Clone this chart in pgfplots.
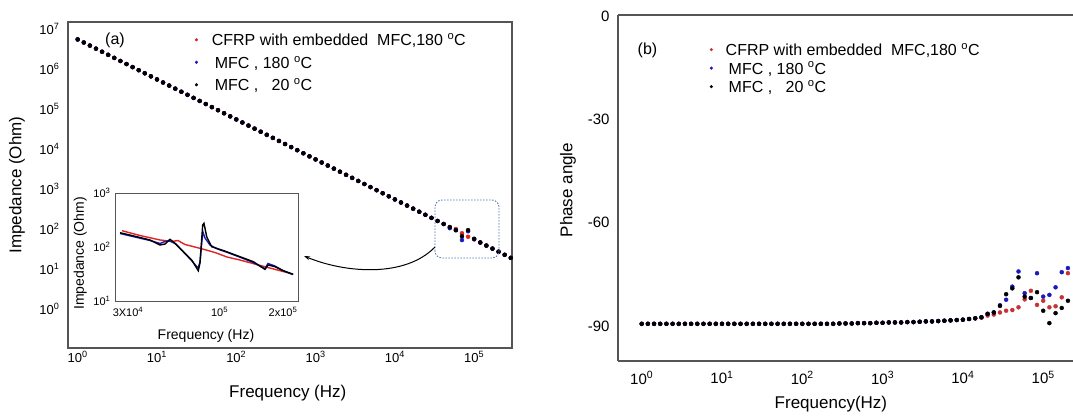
\documentclass[border=0pt]{standalone}
\usepackage{fontspec}
\setmainfont{Liberation Sans}
\usepackage{pgfplots}
\usepackage{pgfplotstable}
\pgfplotsset{compat=1.18}
\usetikzlibrary{arrows.meta}

\definecolor{cred}{RGB}{225,35,35}
\definecolor{cblue}{RGB}{25,25,190}
\definecolor{cred2}{RGB}{200,50,50}
\definecolor{cbox}{RGB}{80,120,180}
\definecolor{spine}{RGB}{85,85,85}

% panel (a): frequency, impedance (red: CFRP+MFC 180C, blue: MFC 180C, black: MFC 20C)
\pgfplotstableread{
f zr zb zk
1 5.5e6 5.5e6 5.5e6
1.1938 4.607e6 4.607e6 4.607e6
1.4251 3.859e6 3.859e6 3.859e6
1.7013 3.233e6 3.233e6 3.233e6
2.0310 2.708e6 2.708e6 2.708e6
2.4245 2.2685e6 2.2685e6 2.2685e6
2.8943 1.9003e6 1.9003e6 1.9003e6
3.4551 1.5918e6 1.5918e6 1.5918e6
4.1246 1.3335e6 1.3335e6 1.3335e6
4.9239 1.1170e6 1.1170e6 1.1170e6
5.8780 9.357e5 9.357e5 9.357e5
7.0170 7.838e5 7.838e5 7.838e5
8.3768 6.566e5 6.566e5 6.566e5
10 5.5e5 5.5e5 5.5e5
11.938 4.607e5 4.607e5 4.607e5
14.251 3.859e5 3.859e5 3.859e5
17.013 3.233e5 3.233e5 3.233e5
20.310 2.708e5 2.708e5 2.708e5
24.245 2.2685e5 2.2685e5 2.2685e5
28.943 1.9003e5 1.9003e5 1.9003e5
34.551 1.5918e5 1.5918e5 1.5918e5
41.246 1.3335e5 1.3335e5 1.3335e5
49.239 1.1170e5 1.1170e5 1.1170e5
58.780 9.357e4 9.357e4 9.357e4
70.170 7.838e4 7.838e4 7.838e4
83.768 6.566e4 6.566e4 6.566e4
100 5.5e4 5.5e4 5.5e4
119.38 4.607e4 4.607e4 4.607e4
142.51 3.859e4 3.859e4 3.859e4
170.13 3.233e4 3.233e4 3.233e4
203.10 2.708e4 2.708e4 2.708e4
242.45 2.2685e4 2.2685e4 2.2685e4
289.43 1.9003e4 1.9003e4 1.9003e4
345.51 1.5918e4 1.5918e4 1.5918e4
412.46 1.3335e4 1.3335e4 1.3335e4
492.39 1.1170e4 1.1170e4 1.1170e4
587.80 9357 9357 9357
701.70 7838 7838 7838
837.68 6566 6566 6566
1000 5500 5500 5500
1193.8 4607 4607 4607
1425.1 3859 3859 3859
1701.3 3233 3233 3233
2031.0 2708 2708 2708
2424.5 2268.5 2268.5 2268.5
2894.3 1900.3 1900.3 1900.3
3455.1 1591.8 1591.8 1591.8
4124.6 1333.5 1333.5 1333.5
4923.9 1117.0 1117.0 1117.0
5878.0 935.7 935.7 935.7
7017.0 783.8 783.8 783.8
8376.8 656.6 656.6 656.6
10000 550 550 550
11938 460.7 460.7 460.7
14251 385.9 385.9 385.9
17013 323.3 323.3 323.3
20310 270.8 270.8 270.8
24245 226.85 226.85 226.85
28943 190.03 190.03 190.03
34551 159.18 159.18 159.18
41246 133.35 133.35 133.35
49239 111.70 105.0 111.70
58780 100.0 93.57 93.57
70170 78.38 53.0 66.0
83768 64.0 88.0 94.0
100000 55.0 56.0 57.0
119380 46.07 46.07 46.07
142510 38.59 38.59 38.59
170130 32.33 32.33 32.33
203100 27.08 27.08 27.08
242450 22.685 22.685 22.685
289430 19.003 19.003 19.003
345510 15.918 15.918 15.918
}\tblA

% inset of panel (a)
\pgfplotstableread{
f z
3.124e4 200.4
3.886e4 163.3
4.952e4 134.9
5.727e4 126.5
6.159e4 131.9
6.704e4 111.2
8.044e4 94.6
9.643e4 79.1
1.115e5 65.3
1.306e5 57.4
1.565e5 48.4
1.878e5 40.8
2.199e5 35.2
2.481e5 31.6
}\tblIr
\pgfplotstableread{
f z
3.050e4 177.8
3.747e4 150.0
4.386e4 131.9
4.952e4 116.1
5.262e4 126.5
5.589e4 129.2
6.009e4 113.6
6.624e4 79.1
7.298e4 55.1
7.849e4 40.8
8.044e4 52.7
8.240e4 134.9
8.341e4 189.6
8.545e4 146.8
9.078e4 108.9
9.879e4 92.6
1.115e5 79.8
1.306e5 64.7
1.528e5 52.1
1.768e5 39.6
1.833e5 49.5
1.995e5 44.5
2.199e5 36.7
2.481e5 30.8
}\tblIb
\pgfplotstableread{
f z
3.050e4 184.0
3.734e4 155.2
4.386e4 134.9
4.952e4 108.9
5.262e4 113.6
5.589e4 138.9
5.937e4 117.1
6.568e4 81.8
7.272e4 57.4
7.879e4 36.4
8.044e4 50.6
8.311e4 255.5
8.442e4 274.8
8.723e4 155.2
9.265e4 101.4
9.843e4 94.6
1.111e5 81.8
1.306e5 66.1
1.534e5 53.5
1.768e5 38.6
1.840e5 46.4
1.995e5 43.2
2.207e5 36.4
2.490e5 31.2
}\tblIk

% panel (b): frequency, phase angle
\pgfplotstableread{
f pr pb pk
1 -89.4 -89.4 -89.4
1.1938 -89.4 -89.4 -89.4
1.4251 -89.4 -89.4 -89.4
1.7013 -89.4 -89.4 -89.4
2.0310 -89.4 -89.4 -89.4
2.4245 -89.4 -89.4 -89.4
2.8943 -89.4 -89.4 -89.4
3.4551 -89.4 -89.4 -89.4
4.1246 -89.4 -89.4 -89.4
4.9239 -89.4 -89.4 -89.4
5.8780 -89.4 -89.4 -89.4
7.0170 -89.4 -89.4 -89.4
8.3768 -89.4 -89.4 -89.4
10 -89.4 -89.4 -89.4
11.938 -89.4 -89.4 -89.4
14.251 -89.4 -89.4 -89.4
17.013 -89.4 -89.4 -89.4
20.310 -89.4 -89.4 -89.4
24.245 -89.4 -89.4 -89.4
28.943 -89.4 -89.4 -89.4
34.551 -89.4 -89.4 -89.4
41.246 -89.4 -89.4 -89.4
49.239 -89.4 -89.4 -89.4
58.780 -89.4 -89.4 -89.4
70.170 -89.4 -89.4 -89.4
83.768 -89.4 -89.4 -89.4
100 -89.4 -89.4 -89.4
119.38 -89.4 -89.4 -89.4
142.51 -89.4 -89.4 -89.4
170.13 -89.4 -89.4 -89.4
203.10 -89.4 -89.4 -89.4
242.45 -89.4 -89.4 -89.4
289.43 -89.3 -89.3 -89.3
345.51 -89.3 -89.3 -89.3
412.46 -89.3 -89.3 -89.3
492.39 -89.2 -89.2 -89.2
587.80 -89.2 -89.2 -89.2
701.70 -89.2 -89.2 -89.2
837.68 -89.1 -89.1 -89.1
1000 -89.1 -89.1 -89.1
1193.8 -89.0 -89.0 -89.0
1425.1 -89.0 -89.0 -89.0
1701.3 -89.0 -89.0 -89.0
2031.0 -88.9 -88.9 -88.9
2424.5 -88.9 -88.9 -88.9
2894.3 -88.8 -88.8 -88.8
3455.1 -88.7 -88.7 -88.7
4124.6 -88.7 -88.7 -88.7
4923.9 -88.6 -88.6 -88.6
5878.0 -88.5 -88.5 -88.5
7017.0 -88.4 -88.4 -88.4
8376.8 -88.3 -88.3 -88.3
10000 -88.2 -88.2 -88.2
11938 -88.0 -88.0 -88.0
14251 -87.8 -87.8 -87.8
17013 -87.6 -87.5 -87.5
20310 -87.0 -86.5 -86.5
24245 -86.7 -86.1 -86.1
28943 -86.1 -84.0 -84.2
34551 -85.6 -82.4 -80.8
41246 -85.4 -78.6 -79.1
49239 -84.6 -74.2 -75.9
58780 -82.3 -80.5 -81.5
70170 -79.8 -81.9 -81.9
83768 -83.9 -74.7 -80.2
100000 -82.7 -81.5 -85.6
119380 -84.6 -81.0 -89.2
142510 -84.3 -78.8 -86.3
170130 -81.7 -74.4 -84.8
203100 -74.7 -73.2 -82.7
242450 -71.4 -69.4 -82.0
}\tblB

\pgfplotsset{
  every axis/.append style={
    scale only axis,
    major tick length=0pt, minor tick length=0pt,
    xminorticks=false, yminorticks=false,
    axis line style={spine, line width=1.3bp},
  },
}
\newcommand{\sps}[1]{\textsuperscript{#1}}

\begin{document}
\begin{tikzpicture}
\path[use as bounding box] (0,0) rectangle (1073bp,418bp);

% ---------------- panel (a) ----------------
\begin{axis}[
  at={(68bp,70bp)}, anchor=south west,
  width=444bp, height=326bp,
  xmode=log, ymode=log,
  xmin=0.755, xmax=3.0e5, ymin=0.106, ymax=1.5e7,
  xtick={1,10,100,1000,10000,100000},
  xticklabels={10\sps{0},10\sps{1},10\sps{2},10\sps{3},10\sps{4},10\sps{5}},
  ytick={1,10,100,1000,10000,100000,1000000,10000000},
  yticklabels={10\sps{0},10\sps{1},10\sps{2},10\sps{3},10\sps{4},10\sps{5},10\sps{6},10\sps{7}},
  tick label style={font=\fontsize{13bp}{15bp}\selectfont},
  yticklabel style={xshift=-5bp},
  xlabel={Frequency (Hz)}, ylabel={Impedance (Ohm)},
  label style={font=\fontsize{17bp}{20bp}\selectfont},
  xlabel style={at={(axis description cs:0.495,-0.138)}, anchor=center},
  ylabel style={at={(axis description cs:-0.115,0.5)}, anchor=center},
  legend style={draw=none, fill=none, at={(axis description cs:0.279,0.972)}, anchor=north west,
    font=\fontsize{16bp}{18bp}\selectfont, row sep=6.5bp, column sep=14bp,
    nodes={inner sep=0pt, text height=12.5bp, text depth=3.5bp}},
  legend cell align=left,
  legend image code/.code={\draw[#1, mark size=1.4bp] plot coordinates {(0bp,1.5bp)};},
]
\addplot[only marks, mark=*, mark size=2bp, cred, mark options={draw=none, fill=cred}] table[x=f, y=zr]{\tblA};
\addlegendentry{CFRP with embedded\ \ MFC,180 \sps{o}C}
\addplot[only marks, mark=*, mark size=2bp, cblue, mark options={draw=none, fill=cblue}] table[x=f, y=zb]{\tblA};
\addlegendentry{\hspace{3bp}MFC , 180 \sps{o}C}
\addplot[only marks, mark=*, mark size=2bp, black, mark options={draw=none, fill=black}] table[x=f, y=zk]{\tblA};
\addlegendentry{\hspace{3bp}MFC ,\ \ \ 20 \sps{o}C}
\end{axis}

\node[font=\fontsize{16bp}{19bp}\selectfont] at (115bp,378bp) {(a)};

% ---------------- inset ----------------
\begin{axis}[
  at={(115bp,117bp)}, anchor=south west,
  width=183bp, height=108bp,
  xmode=log, ymode=log,
  xmin=2.87e4, xmax=2.64e5, ymin=10, ymax=1000,
  axis line style={spine, line width=0.9bp},
  xtick={3.36e4,1.02e5,2.2e5},
  xticklabels={3X10\sps{4},10\sps{5},2x10\sps{5}},
  ytick={10,100,1000},
  yticklabels={10\sps{1},10\sps{2},10\sps{3}},
  tick label style={font=\fontsize{11bp}{13bp}\selectfont},
  xticklabel style={yshift=-3bp},
  yticklabel style={xshift=-1bp},
  xlabel={Frequency (Hz)}, ylabel={Impedance (Ohm)},
  label style={font=\fontsize{14bp}{16bp}\selectfont},
  xlabel style={at={(axis description cs:0.497,-0.324)}, anchor=center},
  ylabel style={at={(axis description cs:-0.19,0.44)}, anchor=center},
]
\addplot[cred, line width=1.4bp, no marks] table[x=f, y=z]{\tblIr};
\addplot[cblue, line width=1.4bp, no marks] table[x=f, y=z]{\tblIb};
\addplot[black, line width=1.4bp, no marks] table[x=f, y=z]{\tblIk};
\end{axis}

% zoom box and arrow
\draw[cbox, line width=0.9bp, dash pattern=on 1.5bp off 1.5bp, rounded corners=7bp]
  (435bp,160bp) rectangle (499bp,218bp);
\draw[black, line width=1bp, -{Stealth[length=6bp,width=4bp]}]
  (435bp,171bp) .. controls (405bp,140bp) and (345bp,145bp) .. (304bp,162bp);

% ---------------- panel (b) ----------------
\begin{axis}[
  at={(618bp,57bp)}, anchor=south west,
  width=455bp, height=346bp,
  axis x line=box, axis y line=left,
  every non boxed y axis/.style={}, y axis line style={-},
  xmode=log,
  xmin=0.507, xmax=2.35e5, ymin=-100.2, ymax=0.3,
  xtick={1,10,100,1000,10000,100000},
  xticklabels={10\sps{0},10\sps{1},10\sps{2},10\sps{3},10\sps{4},10\sps{5}},
  ytick={-90,-60,-30,0},
  yticklabels={-90,-60,-30,0},
  tick label style={font=\fontsize{15bp}{17bp}\selectfont},
  xticklabel style={yshift=-7bp},
  yticklabel style={xshift=-5bp},
  xlabel={Frequency(Hz)}, ylabel={Phase angle},
  label style={font=\fontsize{17bp}{20bp}\selectfont},
  xlabel style={at={(axis description cs:0.468,-0.124)}, anchor=center},
  ylabel style={at={(axis description cs:-0.11,0.494)}, anchor=center},
  legend style={draw=none, fill=none, at={(axis description cs:0.195,0.925)}, anchor=north west,
    font=\fontsize{16bp}{18bp}\selectfont, row sep=2.5bp, column sep=13bp,
    nodes={inner sep=0pt, text height=12.5bp, text depth=3.5bp}},
  legend cell align=left,
  legend image code/.code={\draw[#1, mark size=1.4bp] plot coordinates {(0bp,1.5bp)};},
]
\addplot[only marks, mark=*, mark size=2bp, cred2, mark options={draw=none, fill=cred2}] table[x=f, y=pr]{\tblB};
\addlegendentry{CFRP with embedded\ \ MFC,180 \sps{o}C}
\addplot[only marks, mark=*, mark size=2bp, cblue, mark options={draw=none, fill=cblue}] table[x=f, y=pb]{\tblB};
\addlegendentry{\hspace{3bp}MFC , 180 \sps{o}C}
\addplot[only marks, mark=*, mark size=2bp, black, mark options={draw=none, fill=black}] table[x=f, y=pk]{\tblB};
\addlegendentry{\hspace{3bp}MFC ,\ \ \ 20 \sps{o}C}
\end{axis}

\node[font=\fontsize{16bp}{19bp}\selectfont] at (647.5bp,368bp) {(b)};

\end{tikzpicture}
\end{document}
